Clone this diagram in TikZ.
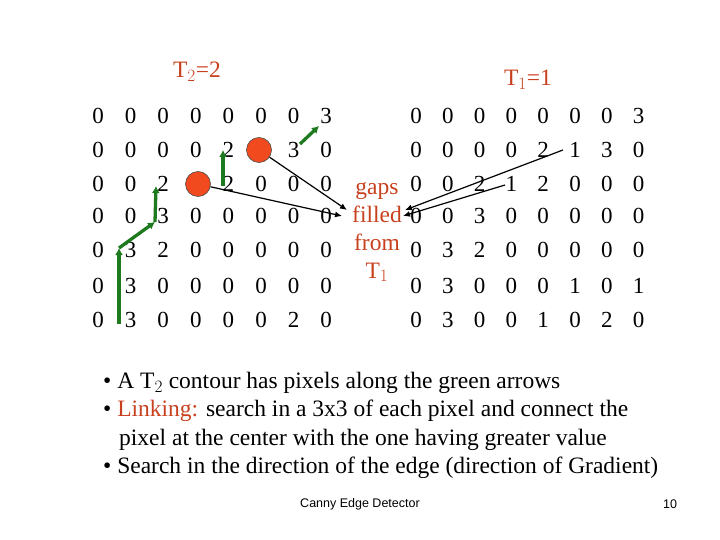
\documentclass[tikz,border=0pt]{standalone}
\usepackage{fontspec}
\setmainfont{Liberation Serif}
\newfontfamily\arial{Liberation Sans}
\usetikzlibrary{arrows.meta}
\definecolor{tred}{HTML}{C8411E}
\definecolor{cred}{HTML}{F04A1E}
\definecolor{garr}{HTML}{1E7A1E}
\begin{document}
\begin{tikzpicture}[x=1pt,y=-1pt,
  num/.style={font=\fontsize{23}{23}\selectfont,inner sep=0pt},
  garrow/.style={draw=garr,line width=3.3pt,-{Latex[length=7pt,width=8pt]}},
  barrow/.style={draw=black,line width=1.2pt,-{Latex[length=7pt,width=6pt]}},
  big/.style={font=\fontsize{23.5}{23.5}\selectfont,inner sep=0pt},
  dot/.style={circle,fill=cred,draw=black!70,line width=0.6pt,minimum size=25pt,inner sep=0pt}]
\useasboundingbox (0,0) rectangle (720,540);
\node[big,text=tred] (t2) at (197,72) {T$_2$=2};
\node[big,text=tred] (t1) at (528,80) {T$_1$=1};
\def\ys{{116,150,184,216,250,286,320}}
\foreach \row [count=\r from 0] in {{0,0,0,0,0,0,0,3},{0,0,0,0,2,,3,0},{0,0,2,,2,0,0,0},{0,0,3,0,0,0,0,0},{0,3,2,0,0,0,0,0},{0,3,0,0,0,0,0,0},{0,3,0,0,0,0,2,0}}{
  \foreach \v [count=\c from 0] in \row {
    \pgfmathsetmacro\yy{\ys[\r]}
    \node[num] (L\r\c) at (98+32.6*\c,\yy) {\v};
  }
}
\foreach \row [count=\r from 0] in {{0,0,0,0,0,0,0,3},{0,0,0,0,2,1,3,0},{0,0,2,1,2,0,0,0},{0,0,3,0,0,0,0,0},{0,3,2,0,0,0,0,0},{0,3,0,0,0,1,0,1},{0,3,0,0,1,0,2,0}}{
  \foreach \v [count=\c from 0] in \row {
    \pgfmathsetmacro\yy{\ys[\r]}
    \node[num] (R\r\c) at (416+31.8*\c,\yy) {\v};
  }
}
\node[dot] (c1) at (259,150) {};
\node[dot] (c2) at (198,184) {};
\node[text=tred,font=\fontsize{23.5}{28}\selectfont,align=center,inner sep=0pt] (gap) at (377,232) {gaps\\filled\\from\\T$_1$};
\coordinate (g1) at (119,324); \coordinate (g2) at (119,248);
\coordinate (g3) at (155,222); \coordinate (g4) at (156,186);
\coordinate (g5) at (223,186); \coordinate (g6) at (223,150);
\coordinate (g7) at (300,144); \coordinate (g8) at (319,126);
\draw[garrow] (g1) -- (g2);
\draw[garrow] (g2) -- (g3);
\draw[garrow] (g3) -- (g4);
\draw[garrow] (g5) -- (g6);
\draw[garrow] (g7) -- (g8);
\coordinate (a1) at (347,210); \coordinate (a2) at (342,216);
\coordinate (a3) at (405,210); \coordinate (a4) at (403,216);
\coordinate (s3) at (563,150); \coordinate (s4) at (505,185);
\draw[barrow] (c1) -- (a1);
\draw[barrow] (c2) -- (a2);
\draw[barrow] (s3) -- (a3);
\draw[barrow] (s4) -- (a4);
\node[anchor=west,big] (b1) at (103,383) {\textbullet{} A T$_2$ contour has pixels along the green arrows};
\node[anchor=west,big] (b2) at (103,411) {\textbullet{} \textcolor{tred}{Linking:} search in a 3x3 of each pixel and connect the};
\node[anchor=west,big] (b3) at (119,440) {pixel at the center with the one having greater value};
\node[anchor=west,big] (b4) at (103,468) {\textbullet{} Search in the direction of the edge (direction of Gradient)};
\node[font=\arial\fontsize{12.5}{12.5}\selectfont] (ft) at (360,504) {Canny Edge Detector};
\node[font=\arial\fontsize{12.5}{12.5}\selectfont] (pg) at (670,504) {10};
\end{tikzpicture}
\end{document}
